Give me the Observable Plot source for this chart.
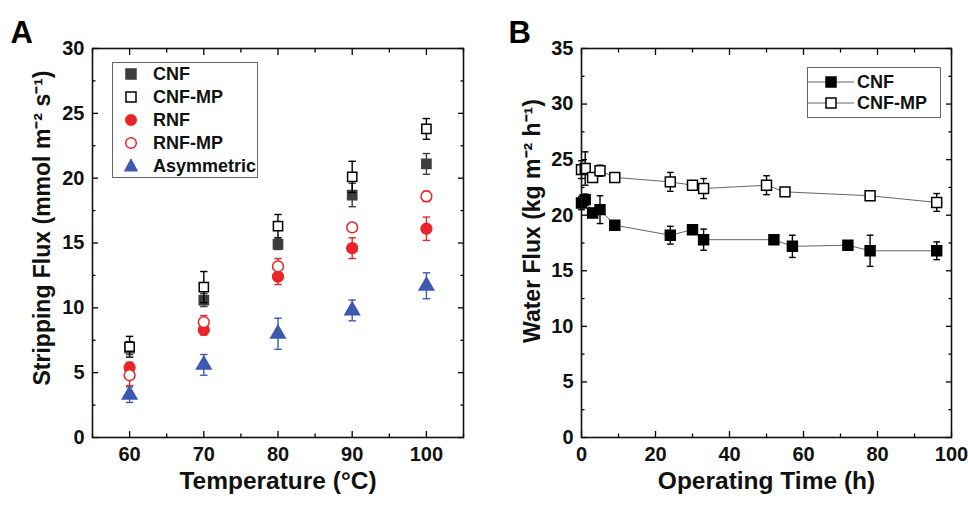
<!DOCTYPE html>
<html><head><meta charset="utf-8">
<script src="https://cdn.jsdelivr.net/npm/d3@7"></script>
<script src="https://cdn.jsdelivr.net/npm/@observablehq/plot@0.6"></script>
<style>
body{margin:0;background:#fff;font-family:"Liberation Sans",Arial,sans-serif;}
#wrap{position:relative;width:968px;height:506px;overflow:hidden;}
.panel{position:absolute;top:0;}
.legend{position:absolute;border:1px solid #666;background:#fff;font-weight:bold;font-size:18px;color:#111;}
.legend .row{position:absolute;display:flex;align-items:center;}
.legend svg{display:block;}
</style></head>
<body><div id="wrap"></div>
<script>
// ---------- Panel A data ----------
const temps = [60, 70, 80, 90, 100];
const cnfA = [6.9, 10.6, 14.9, 18.7, 21.1];
const cnfAErr = [0.5, 0.5, 0.4, 0.9, 0.8];
const cnfMpA = [7.0, 11.6, 16.3, 20.1, 23.8];
const cnfMpAErr = [0.8, 1.2, 0.9, 1.2, 0.8];
const rnfA = [5.4, 8.3, 12.4, 14.6, 16.1];
const rnfAErr = [0.4, 0.4, 0.6, 0.8, 0.9];
const rnfMpA = [4.8, 8.9, 13.2, 16.2, 18.6];
const rnfMpAErr = [0.8, 0.5, 0.6, 0.3, 0.4];
const asymA = [3.3, 5.6, 8.0, 9.8, 11.7];
const asymAErr = [0.6, 0.8, 1.2, 0.8, 1.0];
const seriesA = ["CNF", "CNF-MP", "RNF", "RNF-MP", "Asymmetric"];
const xTicksA = [60, 70, 80, 90, 100];
const xMinorA = [55, 65, 75, 85, 95, 105];
const yTicksA = [0, 5, 10, 15, 20, 25, 30];
const yMinorA = [2.5, 7.5, 12.5, 17.5, 22.5, 27.5];

// ---------- Panel B data ----------
const timeCnf = [0, 1, 3, 5, 9, 24, 30, 33, 52, 57, 72, 78, 96];
const fluxCnf = [21.1, 21.4, 20.2, 20.5, 19.1, 18.2, 18.7, 17.8, 17.8, 17.2, 17.3, 16.8, 16.8];
const errCnf = [0.6, 0.5, 0.4, 1.25, 0.3, 0.8, 0.3, 0.95, 0.3, 1.0, 0.3, 1.4, 0.8];
const timeMp = [0, 1, 3, 5, 9, 24, 30, 33, 50, 55, 78, 96];
const fluxMp = [24.1, 24.2, 23.4, 24.0, 23.4, 23.0, 22.7, 22.4, 22.7, 22.1, 21.75, 21.15];
const errMp = [0.8, 1.5, 0.4, 0.5, 0.3, 0.85, 0.4, 0.9, 0.85, 0.2, 0.4, 0.8];
const seriesB = ["CNF", "CNF-MP"];
const xTicksB = [0, 20, 40, 60, 80, 100];
const xMinorB = [10, 30, 50, 70, 90];
const yTicksB = [0, 5, 10, 15, 20, 25, 30, 35];
const yMinorB = [2.5, 7.5, 12.5, 17.5, 22.5, 27.5, 32.5];

// styles
const GRAY = "#3d3d3d", RED = "#e8262a", BLUE = "#3d59b2", BLACK = "#000";
const styleA = {
  "CNF": {symbol: "square", fill: GRAY, stroke: GRAY, err: GRAY},
  "CNF-MP": {symbol: "square", fill: "#fff", stroke: BLACK, err: BLACK},
  "RNF": {symbol: "circle", fill: RED, stroke: RED, err: RED},
  "RNF-MP": {symbol: "circle", fill: "#fff", stroke: RED, err: RED},
  "Asymmetric": {symbol: "triangle", fill: BLUE, stroke: BLUE, err: BLUE}
};
const valsA = [cnfA, cnfMpA, rnfA, rnfMpA, asymA];
const errsA = [cnfAErr, cnfMpAErr, rnfAErr, rnfMpAErr, asymAErr];
const rowsA = seriesA.flatMap((s, i) => temps.map((t, j) => ({s, x: t, y: valsA[i][j], e: errsA[i][j]})));

const rowsB = [
  ...timeCnf.map((t, j) => ({s: "CNF", x: t, y: fluxCnf[j], e: errCnf[j]})),
  ...timeMp.map((t, j) => ({s: "CNF-MP", x: t, y: fluxMp[j], e: errMp[j]}))
];

const tickFont = {fontSize: 20, fontWeight: "bold"};

function axes(xT, xM, yT, yM) {
  return [
    Plot.axisX(xT, {anchor: "bottom", tickSize: 0, tickPadding: 9, label: null, ...tickFont, fill: "#111"}),
    Plot.axisY(yT, {anchor: "left", tickSize: 0, tickPadding: 8, label: null, ...tickFont, fill: "#111"}),
    Plot.axisX(xT, {anchor: "bottom", tickSize: -6, fill: "none", label: null, strokeWidth: 1.3}),
    Plot.axisX(xM, {anchor: "bottom", tickSize: -3.5, fill: "none", label: null, strokeWidth: 1.3}),
    Plot.axisX(xT, {anchor: "top", tickSize: -6, fill: "none", label: null, strokeWidth: 1.3}),
    Plot.axisX(xM, {anchor: "top", tickSize: -3.5, fill: "none", label: null, strokeWidth: 1.3}),
    Plot.axisY(yT, {anchor: "left", tickSize: -6, fill: "none", label: null, strokeWidth: 1.3}),
    Plot.axisY(yM, {anchor: "left", tickSize: -3.5, fill: "none", label: null, strokeWidth: 1.3}),
    Plot.axisY(yT, {anchor: "right", tickSize: -6, fill: "none", label: null, strokeWidth: 1.3}),
    Plot.axisY(yM, {anchor: "right", tickSize: -3.5, fill: "none", label: null, strokeWidth: 1.3}),
    Plot.frame({stroke: "#111", strokeWidth: 1.6})
  ];
}

function errMarks(data, color, capHalf) {
  return [
    Plot.ruleX(data, {x: "x", y1: d => d.y - d.e, y2: d => d.y + d.e, stroke: color, strokeWidth: 1.4}),
    Plot.link(data, {x1: d => d.x - capHalf, x2: d => d.x + capHalf, y1: d => d.y + d.e, y2: d => d.y + d.e, stroke: color, strokeWidth: 1.4}),
    Plot.link(data, {x1: d => d.x - capHalf, x2: d => d.x + capHalf, y1: d => d.y - d.e, y2: d => d.y - d.e, stroke: color, strokeWidth: 1.4})
  ];
}

const titleFont = {fontSize: 24.5, fontWeight: "bold", fill: "#111"};

// ---------- Panel A ----------
const marksA = [];
for (const s of seriesA) {
  const d = rowsA.filter(r => r.s === s);
  const st = styleA[s];
  marksA.push(...errMarks(d, st.err, 0.5));
  marksA.push(Plot.dot(d, {x: "x", y: "y", symbol: () => st.symbol, r: st.symbol === "triangle" ? 5.4 : (st.symbol === "square" ? 5.2 : 5.4), fill: st.fill, stroke: st.stroke, strokeWidth: 1.5}));
}
const plotA = Plot.plot({
  width: 484, height: 506,
  marginLeft: 92, marginRight: 21, marginTop: 48, marginBottom: 69,
  x: {domain: [55, 105]},
  y: {domain: [0, 30]},
  symbol: {type: "identity"},
  style: {fontFamily: "'Liberation Sans', Arial, sans-serif", background: "transparent", overflow: "visible"},
  marks: [
    ...axes(xTicksA, xMinorA, yTicksA, yMinorA),
    ...marksA,
    Plot.text(["Temperature (°C)"], {frameAnchor: "bottom", dy: 51, ...titleFont}),
    Plot.text(["Stripping Flux (mmol m⁻² s⁻¹)"], {frameAnchor: "left", textAnchor: "middle", rotate: -90, dx: -50, dy: -15, fontSize: 23, fontWeight: "bold", fill: "#111"}),
    Plot.text(["A"], {frameAnchor: "top-left", dx: -82, dy: -28, fontSize: 31, fontWeight: "bold", fill: "#000"})
  ]
});

// ---------- Panel B ----------
const marksB = [];
for (const s of seriesB) {
  const d = rowsB.filter(r => r.s === s);
  marksB.push(Plot.line(d, {x: "x", y: "y", stroke: "#555", strokeWidth: 0.9}));
}
for (const s of seriesB) {
  const d = rowsB.filter(r => r.s === s);
  marksB.push(...errMarks(d, "#000", 0.9));
  marksB.push(Plot.dot(d, {x: "x", y: "y", symbol: "square", r: 5.6, fill: s === "CNF" ? "#000" : "#fff", stroke: "#000", strokeWidth: 1.5}));
}
const plotB = Plot.plot({
  width: 484, height: 506,
  marginLeft: 97, marginRight: 17, marginTop: 48, marginBottom: 69,
  x: {domain: [0, 100]},
  y: {domain: [0, 35]},
  style: {fontFamily: "'Liberation Sans', Arial, sans-serif", background: "transparent", overflow: "visible"},
  marks: [
    ...marksB,
    ...axes(xTicksB, xMinorB, yTicksB, yMinorB),
    Plot.text(["Operating Time (h)"], {frameAnchor: "bottom", dy: 51, ...titleFont}),
    Plot.text(["Water Flux (kg m⁻² h⁻¹)"], {frameAnchor: "left", textAnchor: "middle", rotate: -90, dx: -49, dy: -22, fontSize: 23, fontWeight: "bold", fill: "#111"}),
    Plot.text(["B"], {frameAnchor: "top-left", dx: -73, dy: -28, fontSize: 31, fontWeight: "bold", fill: "#000"})
  ]
});

const wrap = document.getElementById("wrap");
plotA.classList.add("panel"); plotA.style.left = "0px";
plotB.classList.add("panel"); plotB.style.left = "484px";
wrap.appendChild(plotA); wrap.appendChild(plotB);

// ---------- Legends ----------
function symbolSvg(kind, fill, stroke, withLine) {
  const w = withLine ? 46 : 20;
  const cx = w / 2, cy = 10;
  let shape = "";
  if (kind === "square") shape = `<rect x="${cx-5}" y="${cy-5}" width="10" height="10" fill="${fill}" stroke="${stroke}" stroke-width="1.5"/>`;
  if (kind === "circle") shape = `<circle cx="${cx}" cy="${cy}" r="5.3" fill="${fill}" stroke="${stroke}" stroke-width="1.5"/>`;
  if (kind === "triangle") shape = `<path d="M${cx},${cy-7} L${cx+6.5},${cy+5} L${cx-6.5},${cy+5} Z" fill="${fill}" stroke="${stroke}" stroke-width="1"/>`;
  const line = withLine ? `<line x1="0" y1="${cy}" x2="${w}" y2="${cy}" stroke="#666" stroke-width="1"/>` : "";
  return `<svg width="${w}" height="20">${line}${shape}</svg>`;
}
const legA = document.createElement("div");
legA.className = "legend";
Object.assign(legA.style, {left: "112px", top: "62px", width: "144px", height: "114px"});
seriesA.forEach((s, i) => {
  const st = styleA[s];
  const row = document.createElement("div");
  row.className = "row";
  Object.assign(row.style, {left: "8px", top: (1 + i * 23) + "px", height: "20px"});
  row.innerHTML = symbolSvg(st.symbol, st.fill, st.stroke, false) + `<span style="margin-left:12px">${s}</span>`;
  legA.appendChild(row);
});
wrap.appendChild(legA);

const legB = document.createElement("div");
legB.className = "legend";
Object.assign(legB.style, {left: "807px", top: "67px", width: "132px", height: "49px"});
seriesB.forEach((s, i) => {
  const row = document.createElement("div");
  row.className = "row";
  Object.assign(row.style, {left: "0px", top: (4 + i * 21) + "px", height: "20px"});
  row.innerHTML = symbolSvg("square", s === "CNF" ? "#000" : "#fff", "#000", true) + `<span style="margin-left:3px">${s}</span>`;
  legB.appendChild(row);
});
wrap.appendChild(legB);
</script></body></html>
